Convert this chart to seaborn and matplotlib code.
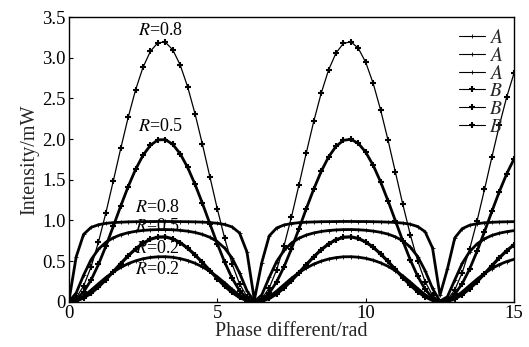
"""Fabry-Perot style intensity curves, A and B groups for R = 0.8 / 0.5 / 0.2."""

import matplotlib

matplotlib.use("Agg")
import matplotlib.pyplot as plt
import seaborn as sns

# phase samples (rad)
PHASE = [0.0, 0.25, 0.5, 0.75, 1.0, 1.25, 1.5, 1.75, 2.0, 2.25, 2.5, 2.75, 3.0, 3.25, 3.5, 3.75,
         4.0, 4.25, 4.5, 4.75, 5.0, 5.25, 5.5, 5.75, 6.0, 6.25, 6.5, 6.75, 7.0, 7.25, 7.5, 7.75,
         8.0, 8.25, 8.5, 8.75, 9.0, 9.25, 9.5, 9.75, 10.0, 10.25, 10.5, 10.75, 11.0, 11.25, 11.5,
         11.75, 12.0, 12.25, 12.5, 12.75, 13.0, 13.25, 13.5, 13.75, 14.0, 14.25, 14.5, 14.75, 15.0]

# A curves (flat topped)
A_08 = [0, 0.554, 0.830, 0.915, 0.948, 0.965, 0.974, 0.979, 0.983, 0.985, 0.986, 0.987, 0.988,
        0.988, 0.987, 0.986, 0.985, 0.983, 0.980, 0.975, 0.966, 0.951, 0.921, 0.847, 0.614, 0.023,
        0.483, 0.811, 0.908, 0.945, 0.963, 0.973, 0.979, 0.982, 0.985, 0.986, 0.987, 0.988, 0.988,
        0.987, 0.987, 0.985, 0.983, 0.980, 0.976, 0.968, 0.954, 0.926, 0.862, 0.663, 0.081, 0.402,
        0.787, 0.900, 0.942, 0.961, 0.972, 0.978, 0.982, 0.984, 0.986]
A_05 = [0, 0.110, 0.329, 0.518, 0.648, 0.733, 0.788, 0.825, 0.850, 0.867, 0.878, 0.885, 0.888,
        0.889, 0.886, 0.879, 0.869, 0.853, 0.829, 0.794, 0.741, 0.661, 0.538, 0.357, 0.137, 0.002,
        0.086, 0.300, 0.496, 0.633, 0.723, 0.782, 0.821, 0.847, 0.865, 0.877, 0.884, 0.888, 0.889,
        0.886, 0.880, 0.870, 0.855, 0.833, 0.799, 0.750, 0.674, 0.557, 0.384, 0.165, 0.009, 0.063,
        0.270, 0.473, 0.618, 0.713, 0.775, 0.817, 0.844, 0.863, 0.876]
A_02 = [0, 0.019, 0.071, 0.144, 0.223, 0.300, 0.367, 0.424, 0.470, 0.504, 0.530, 0.546, 0.554,
        0.555, 0.548, 0.532, 0.508, 0.475, 0.431, 0.376, 0.309, 0.234, 0.154, 0.080, 0.024, 0.000,
        0.014, 0.063, 0.133, 0.212, 0.290, 0.359, 0.417, 0.464, 0.500, 0.527, 0.544, 0.554, 0.555,
        0.549, 0.535, 0.512, 0.480, 0.437, 0.384, 0.319, 0.244, 0.164, 0.089, 0.030, 0.001, 0.010,
        0.055, 0.123, 0.202, 0.280, 0.350, 0.410, 0.459, 0.496, 0.524]

# B curves (peaked)
B_08 = [0, 0.050, 0.196, 0.429, 0.735, 1.095, 1.487, 1.885, 2.266, 2.605, 2.882, 3.079, 3.184,
        3.191, 3.098, 2.913, 2.646, 2.314, 1.937, 1.540, 1.146, 0.781, 0.466, 0.222, 0.064, 0.001,
        0.037, 0.171, 0.394, 0.691, 1.045, 1.434, 1.833, 2.218, 2.563, 2.850, 3.058, 3.176, 3.196,
        3.116, 2.943, 2.686, 2.361, 1.989, 1.593, 1.197, 0.827, 0.504, 0.250, 0.079, 0.004, 0.027,
        0.148, 0.359, 0.648, 0.996, 1.381, 1.780, 2.168, 2.520, 2.816]
B_05 = [0, 0.031, 0.122, 0.268, 0.460, 0.685, 0.929, 1.178, 1.416, 1.628, 1.801, 1.924, 1.990,
        1.994, 1.936, 1.821, 1.654, 1.446, 1.211, 0.962, 0.716, 0.488, 0.291, 0.139, 0.040, 0.001,
        0.023, 0.107, 0.246, 0.432, 0.653, 0.896, 1.146, 1.386, 1.602, 1.781, 1.911, 1.985, 1.997,
        1.948, 1.839, 1.679, 1.476, 1.243, 0.996, 0.748, 0.517, 0.315, 0.156, 0.049, 0.002, 0.017,
        0.093, 0.225, 0.405, 0.622, 0.863, 1.113, 1.355, 1.575, 1.760]
B_02 = [0, 0.012, 0.049, 0.107, 0.184, 0.274, 0.372, 0.471, 0.566, 0.651, 0.720, 0.770, 0.796,
        0.798, 0.775, 0.728, 0.661, 0.578, 0.484, 0.385, 0.287, 0.195, 0.117, 0.055, 0.016, 0.000,
        0.009, 0.043, 0.098, 0.173, 0.261, 0.358, 0.458, 0.554, 0.641, 0.712, 0.764, 0.794, 0.799,
        0.779, 0.736, 0.672, 0.590, 0.497, 0.398, 0.299, 0.207, 0.126, 0.062, 0.020, 0.001, 0.007,
        0.037, 0.090, 0.162, 0.249, 0.345, 0.445, 0.542, 0.630, 0.704]

# annotation text and anchor (data coords)
R_LABELS = [("$R$=0.8", 3.1, 3.33), ("$R$=0.5", 3.1, 2.15), ("$R$=0.8", 3.0, 1.16),
            ("$R$=0.5", 3.0, 0.93), ("$R$=0.2", 3.0, 0.66), ("$R$=0.2", 3.0, 0.40)]

sns.set_theme(style="ticks")
plt.rcParams["font.family"] = ["Liberation Serif", "DejaVu Serif"]
plt.rcParams["mathtext.fontset"] = "stix"
plt.rcParams["axes.edgecolor"] = "black"

fig, ax = plt.subplots(figsize=(5.29, 3.47), dpi=100)
fig.subplots_adjust(left=0.130, right=0.972, top=0.951, bottom=0.130)

series = [
    (A_08, "$A$", 2.0, "+", 3, 0.6),
    (A_05, "$A$", 2.0, "+", 3, 0.6),
    (A_02, "$A$", 2.0, "+", 3, 0.6),
    (B_08, "$B$", 0.9, "+", 5, 1.5),
    (B_05, "$B$", 2.0, "+", 5, 1.5),
    (B_02, "$B$", 2.3, "+", 5, 1.5),
]
for ys, lab, lw, mk, ms, mew in series:
    sns.lineplot(x=PHASE, y=ys, ax=ax, color="black", lw=lw, marker=mk, markersize=ms,
                 markeredgewidth=mew, markeredgecolor="black", label=lab, sort=False)

for txt, x, y in R_LABELS:
    ax.text(x, y, txt, ha="center", va="center", fontsize=13, color="black")

ax.set_xlim(0, 15)
ax.set_ylim(0, 3.5)
ax.set_xticks([0, 5, 10, 15])
ax.set_xticklabels(["0", "5", "10", "15"])
ax.set_yticks([0, 0.5, 1.0, 1.5, 2.0, 2.5, 3.0, 3.5])
ax.set_yticklabels(["0", "0.5", "1.0", "1.5", "2.0", "2.5", "3.0", "3.5"])
ax.tick_params(direction="in", length=3, width=0.8, labelsize=13.5, pad=2, colors="black")
ax.set_xlabel("Phase different/rad", fontsize=14.5, labelpad=0)
ax.set_ylabel("Intensity/mW", fontsize=14.5, labelpad=2)
for sp in ax.spines.values():
    sp.set_linewidth(1.0)
    sp.set_visible(True)

leg = ax.legend(loc="upper right", frameon=False, fontsize=14, handlelength=1.3,
                handletextpad=0.2, labelspacing=0.0, borderaxespad=0.2)
for h in leg.get_lines():
    h.set_linewidth(0.8)

fig.savefig("out.png", dpi=100)
